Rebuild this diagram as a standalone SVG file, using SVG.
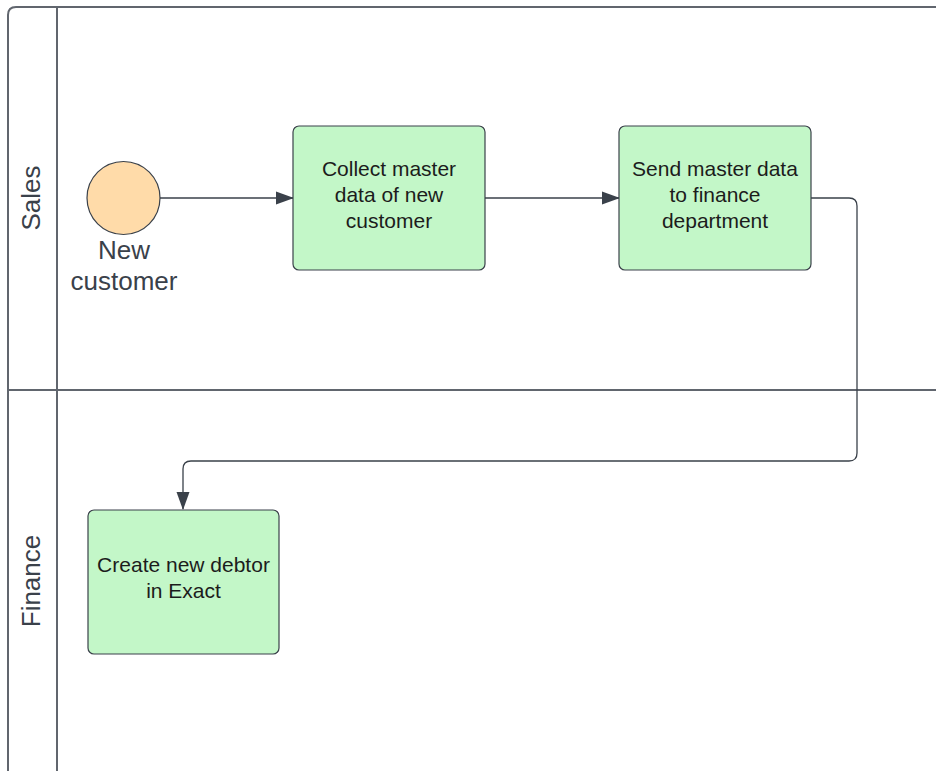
<svg xmlns="http://www.w3.org/2000/svg" width="936" height="771" viewBox="0 0 936 771">
  <defs>
    <marker id="arrow" markerWidth="18" markerHeight="14" refX="17" refY="7" orient="auto" markerUnits="userSpaceOnUse">
      <path d="M0,0.5 L18,7 L0,13.5 Z" fill="#3a414a"/>
    </marker>
    <style>
      .lane { fill: none; stroke: #61666e; stroke-width: 2; }
      .task { fill: #c3f7c8; stroke: #3a414a; stroke-width: 1.2; }
      .event { fill: #ffdba9; stroke: #3a414a; stroke-width: 1.2; }
      .edge { fill: none; stroke: #3a414a; stroke-width: 1.3; }
      .label { font-family: "Liberation Sans", Arial, sans-serif; font-size: 21px; fill: #1c1c1c; text-anchor: middle; }
      .caption { font-family: "Liberation Sans", Arial, sans-serif; font-size: 26px; fill: #3a414a; text-anchor: middle; }
    </style>
  </defs>

  <rect width="936" height="771" fill="#ffffff"/>

  <!-- Pool with two lanes -->
  <g id="pool">
    <path class="lane" d="M8,775 L8,15 Q8,7 16,7 L945,7"/>
    <line class="lane" x1="57" y1="7" x2="57" y2="775"/>
    <line class="lane" x1="8" y1="390" x2="945" y2="390"/>
    <text class="caption" transform="translate(40,198) rotate(-90)">Sales</text>
    <text class="caption" transform="translate(40,581) rotate(-90)">Finance</text>
  </g>

  <!-- Connectors -->
  <g id="connectors">
    <line class="edge" x1="160" y1="198" x2="293" y2="198" marker-end="url(#arrow)"/>
    <line class="edge" x1="485" y1="198" x2="619" y2="198" marker-end="url(#arrow)"/>
    <path class="edge" d="M811,198 L849,198 Q857,198 857,206 L857,453 Q857,461 849,461 L191,461 Q183,461 183,469 L183,509" marker-end="url(#arrow)"/>
  </g>

  <!-- Start event -->
  <g id="new-customer">
    <circle class="event" cx="123.5" cy="198" r="36.5"/>
    <text class="caption" x="124" y="259">New</text>
    <text class="caption" x="124" y="290">customer</text>
  </g>

  <g id="collect-master-data">
    <rect class="task" x="293" y="126" width="192" height="144" rx="6"/>
    <text class="label" x="389" y="175.5">Collect master</text>
    <text class="label" x="389" y="201.5">data of new</text>
    <text class="label" x="389" y="227.5">customer</text>
  </g>

  <g id="send-master-data">
    <rect class="task" x="619" y="126" width="192" height="144" rx="6"/>
    <text class="label" x="715" y="175.5">Send master data</text>
    <text class="label" x="715" y="201.5">to finance</text>
    <text class="label" x="715" y="227.5">department</text>
  </g>

  <g id="create-debtor">
    <rect class="task" x="88" y="510" width="191" height="144" rx="6"/>
    <text class="label" x="183.5" y="572">Create new debtor</text>
    <text class="label" x="183.5" y="598">in Exact</text>
  </g>
</svg>
